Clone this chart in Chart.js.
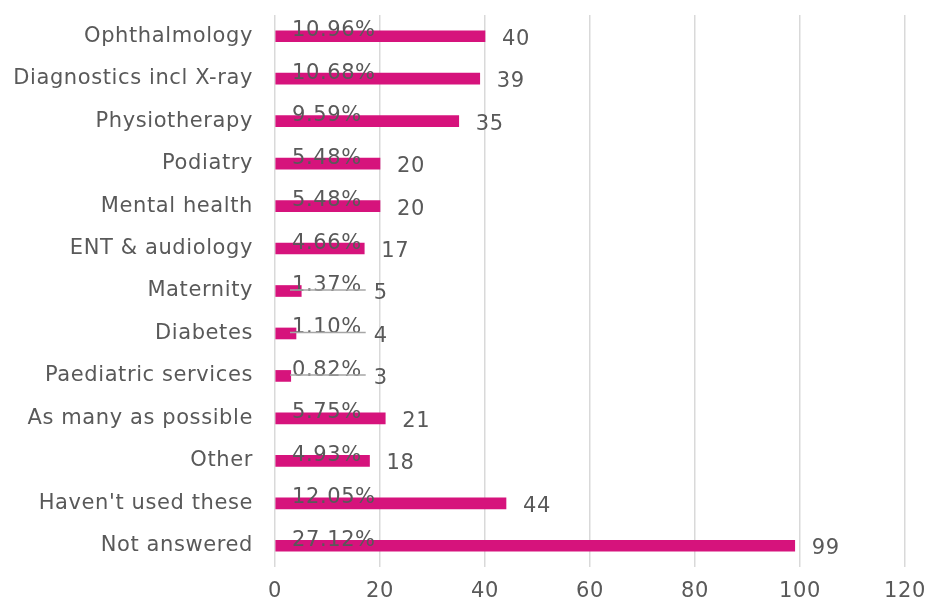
<!DOCTYPE html>
<html>
<head>
<meta charset="utf-8">
<script src="https://cdn.jsdelivr.net/npm/chart.js@4.4.0/dist/chart.umd.min.js"></script>
<style>
  html, body { margin: 0; padding: 0; background: #fff; }
  #wrap { width: 930px; height: 605px; }
</style>
</head>
<body>
<div id="wrap"><canvas id="chart"></canvas></div>
<script>
const categories = [
  "Ophthalmology", "Diagnostics incl X-ray", "Physiotherapy", "Podiatry",
  "Mental health", "ENT & audiology", "Maternity", "Diabetes",
  "Paediatric services", "As many as possible", "Other",
  "Haven't used these", "Not answered"
]
const counts = [40, 39, 35, 20, 20, 17, 5, 4, 3, 21, 18, 44, 99]
const percents = ["10.96%", "10.68%", "9.59%", "5.48%", "5.48%", "4.66%",
  "1.37%", "1.10%", "0.82%", "5.75%", "4.93%", "12.05%", "27.12%"]

const FONT = "DejaVu Sans"
const TEXT = '#595959'
const SPACING = '0.6px'

// wider lettering, closer to the original typeface
const spacing = {
  id: 'spacing',
  beforeDraw(chart) { chart.ctx.letterSpacing = SPACING }
}

// draws the percentage above each bar and the count after it
const barLabels = {
  id: 'barLabels',
  afterDatasetsDraw(chart) {
    const ctx = chart.ctx
    const meta = chart.getDatasetMeta(0)
    const x0 = chart.scales.x.getPixelForValue(0)
    ctx.save()
    ctx.letterSpacing = SPACING
    ctx.font = `21px ${FONT}`
    ctx.fillStyle = TEXT
    meta.data.forEach((bar, i) => {
      const py = bar.y
      const px = x0 + 17
      ctx.textAlign = 'left'
      ctx.textBaseline = 'alphabetic'
      ctx.fillText(percents[i], px, py)
      const w = ctx.measureText(percents[i]).width
      let cx = bar.x + 17
      if (bar.x < px + w - 20) {
        // leader line when the label sticks out past a short bar
        const end = px + w + 4
        ctx.strokeStyle = '#a6a6a6'
        ctx.lineWidth = 1.5
        ctx.beginPath()
        ctx.moveTo(px - 2, py - 1)
        ctx.lineTo(end, py - 1)
        ctx.stroke()
        cx = end + 8
      }
      ctx.textBaseline = 'middle'
      ctx.fillText(counts[i], cx, py + 3)
    })
    ctx.restore()
  }
}

new Chart(document.getElementById('chart'), {
  type: 'bar',
  data: {
    labels: categories,
    datasets: [{
      data: counts,
      backgroundColor: '#d6137c',
      barThickness: 11
    }]
  },
  plugins: [spacing, barLabels],
  options: {
    indexAxis: 'y',
    responsive: true,
    maintainAspectRatio: false,
    animation: false,
    layout: { padding: { top: 15, right: 25, bottom: 0, left: 0 } },
    plugins: {
      legend: { display: false },
      tooltip: { enabled: false }
    },
    scales: {
      x: {
        min: 0,
        max: 120,
        ticks: { stepSize: 20, color: TEXT, padding: 12, font: { family: FONT, size: 21 } },
        grid: { color: '#d9d9d9', lineWidth: 1.5, drawTicks: false },
        border: { display: false },
        afterFit: s => { s.height = 38; s.paddingLeft = 0; s.paddingRight = 0 }
      },
      y: {
        ticks: { color: TEXT, padding: 22, font: { family: FONT, size: 21 } },
        grid: { display: false, drawTicks: false },
        border: { display: false },
        afterFit: s => { s.width = 275; s.paddingTop = 0; s.paddingBottom = 0 }
      }
    }
  }
})
</script>
</body>
</html>
